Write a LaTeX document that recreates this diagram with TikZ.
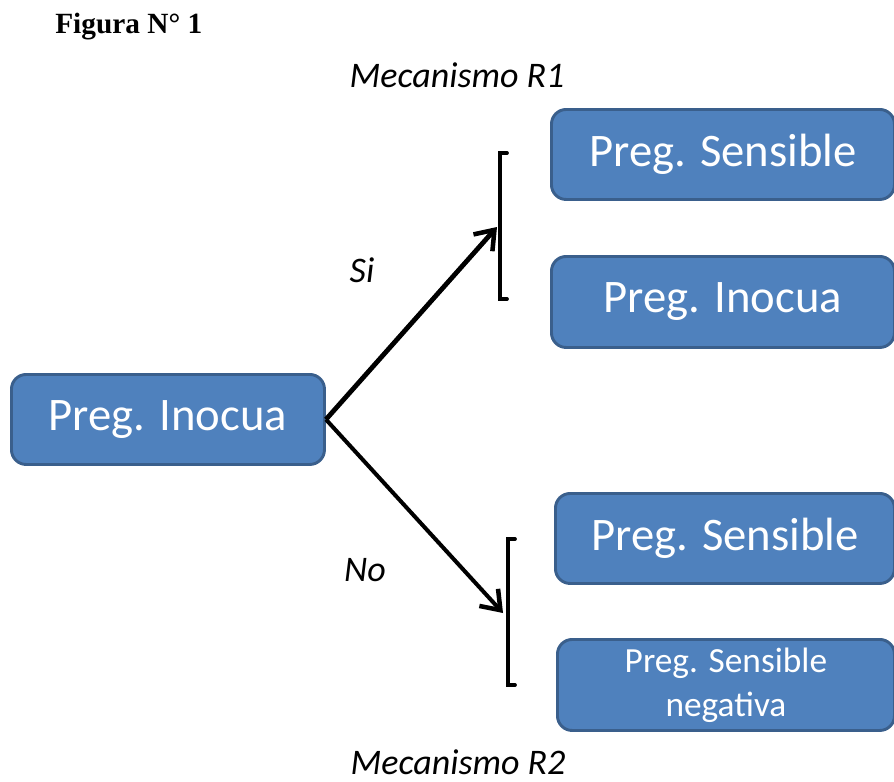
\documentclass[tikz,border=0pt]{standalone}
\usepackage{fontspec}
\setmainfont{Carlito}
\newfontfamily\timesfont{Liberation Serif}
\usetikzlibrary{arrows.meta,calc}
\definecolor{boxfill}{HTML}{4F81BD}
\definecolor{boxline}{HTML}{3A5F8C}
\tikzset{
  qbox/.style={draw=boxline, line width=2.2pt, fill=boxfill, rounded corners=11pt,
    text=white, font=\fontsize{35}{40}\selectfont, inner sep=0pt, anchor=north west},
  lbl/.style={font=\fontsize{27}{31}\selectfont\itshape, inner sep=0pt},
  brack/.style={line width=2.8pt, line cap=round, line join=miter},
  arr/.style={line width=3.6pt, -{Straight Barb[length=13pt,width=19pt,line width=3.4pt]}}
}
\begin{document}
\begin{tikzpicture}[x=0.75pt,y=-0.75pt]
\useasboundingbox (0,0) rectangle (894,782);
% title
\node[anchor=west, inner sep=0pt, font=\timesfont\bfseries\fontsize{22}{26}\selectfont] (title) at (55,27) {Figura N° 1};
% boxes
\node[qbox, minimum width=313*0.75pt, minimum height=90*0.75pt] (root) at (10,373) {Preg. Inocua};
\node[qbox, minimum width=343*0.75pt, minimum height=90*0.75pt] (s1) at (550,108) {Preg. Sensible};
\node[qbox, minimum width=343*0.75pt, minimum height=91*0.75pt] (i1) at (550,255) {Preg. Inocua};
\node[qbox, minimum width=339*0.75pt, minimum height=90*0.75pt] (s2) at (554,492) {Preg. Sensible};
\node[qbox, minimum width=337*0.75pt, minimum height=91*0.75pt, align=center,
  font=\fontsize{26.5}{33}\selectfont] (neg) at (556,638) {Preg. Sensible\\negativa};
% labels
\node[lbl] (m1) at (457,75) {Mecanismo R1};
\node[lbl] (si) at (362,270) {Si};
\node[lbl] (no) at (365,570) {No};
\node[lbl] (m2) at (458,762) {Mecanismo R2};
% brackets
\coordinate (b1t) at (500,153);
\coordinate (b1b) at (500,299);
\coordinate (b1m) at (500,227);
\coordinate (b2t) at (508,539);
\coordinate (b2b) at (508,685);
\coordinate (b2m) at (508,613);
\draw[brack] ($(b1t)+(7,0)$) -- (b1t) -- (b1b) -- ($(b1b)+(7,0)$);
\draw[brack] ($(b2t)+(7,0)$) -- (b2t) -- (b2b) -- ($(b2b)+(7,0)$);
% arrows
\draw[arr] (root.east) -- ($(b1m)+(-3,0)$);
\draw[arr, line width=3pt] (root.east) -- ($(b2m)+(-5,0)$);
\end{tikzpicture}
\end{document}
